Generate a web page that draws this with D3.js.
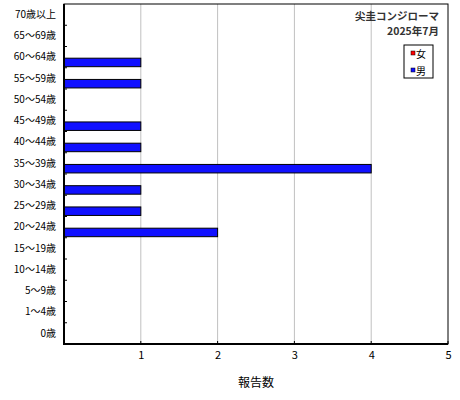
<!DOCTYPE html>
<html>
<head>
<meta charset="utf-8">
<script src="https://cdn.jsdelivr.net/npm/d3@7"></script>
<style>
  body { margin: 0; background: #fff; }
  svg text { font-family: "Noto Sans CJK JP", sans-serif; }
</style>
</head>
<body>
<svg id="canvas" width="460" height="400"></svg>
<script>
let ages = ['0歳', '1～4歳', '5～9歳', '10～14歳', '15～19歳', '20～24歳', '25～29歳', '30～34歳',
            '35～39歳', '40～44歳', '45～49歳', '50～54歳', '55～59歳', '60～64歳', '65～69歳', '70歳以上']
let sexes = ['女', '男']
let female = [0, 0, 0, 0, 0, 0, 0, 0, 0, 0, 0, 0, 0, 0, 0, 0]
let male = [0, 0, 0, 0, 0, 2, 1, 1, 4, 1, 1, 0, 1, 1, 0, 0]
let xTicks = [1, 2, 3, 4, 5]
let colors = ['#ff0000', '#1010ff']

let canvas = d3.select('#canvas')

let plotLeft = 64, plotRight = 448, plotTop = 4, plotBottom = 344

let xScale = d3.scaleLinear().domain([0, 5]).range([plotLeft, plotRight])
let yScale = d3.scaleBand().domain(ages.slice().reverse()).range([plotTop, plotBottom])
let sexScale = d3.scaleBand().domain(sexes).range([0, yScale.bandwidth()])
                 .paddingInner(0.2).paddingOuter(0.1)

// gridlines
canvas.selectAll('line.grid')
      .data([1, 2, 3, 4])
      .enter()
      .append('line')
      .attr('x1', d => xScale(d))
      .attr('x2', d => xScale(d))
      .attr('y1', plotTop)
      .attr('y2', plotBottom)
      .attr('stroke', '#c0c0c0')
      .attr('stroke-width', 1)

// bars
let rows = []
ages.forEach((age, i) => {
  rows.push({age: age, sex: '女', value: female[i], color: colors[0]})
  rows.push({age: age, sex: '男', value: male[i], color: colors[1]})
})

canvas.selectAll('rect.bar')
      .data(rows.filter(d => d.value > 0))
      .enter()
      .append('rect')
      .attr('class', 'bar')
      .attr('x', xScale(0))
      .attr('y', d => yScale(d.age) + sexScale(d.sex))
      .attr('width', d => xScale(d.value) - xScale(0))
      .attr('height', sexScale.bandwidth())
      .attr('fill', d => d.color)
      .attr('stroke', '#000')
      .attr('stroke-width', 1)

// frame
canvas.append('rect')
      .attr('x', plotLeft).attr('y', plotTop)
      .attr('width', plotRight - plotLeft).attr('height', plotBottom - plotTop)
      .attr('fill', 'none').attr('stroke', '#000').attr('stroke-width', 1)
canvas.append('line')
      .attr('x1', plotLeft).attr('x2', plotLeft).attr('y1', plotTop).attr('y2', plotBottom + 1)
      .attr('stroke', '#000').attr('stroke-width', 2)
canvas.append('line')
      .attr('x1', plotLeft - 1).attr('x2', plotRight).attr('y1', plotBottom).attr('y2', plotBottom)
      .attr('stroke', '#000').attr('stroke-width', 2)

// inward ticks
canvas.selectAll('line.ytick')
      .data(ages.slice(0, ages.length - 1))
      .enter()
      .append('line')
      .attr('x1', plotLeft).attr('x2', plotLeft + 3)
      .attr('y1', d => yScale(d)).attr('y2', d => yScale(d))
      .attr('stroke', '#000')
canvas.selectAll('line.xtick')
      .data(xTicks)
      .enter()
      .append('line')
      .attr('x1', d => xScale(d)).attr('x2', d => xScale(d))
      .attr('y1', plotBottom).attr('y2', plotBottom - 3)
      .attr('stroke', '#000')

// axis labels
let yAxis = d3.axisLeft(yScale).tickSize(0).tickPadding(8)
let gy = canvas.append('g').attr('transform', `translate(${plotLeft},0)`).call(yAxis)
gy.select('.domain').remove()
gy.selectAll('text').attr('font-size', 10).attr('fill', '#000')
  .style('font-family', '"Noto Sans CJK JP", sans-serif')

let xAxis = d3.axisBottom(xScale).tickValues(xTicks).tickFormat(d3.format('d')).tickSize(0).tickPadding(7)
let gx = canvas.append('g').attr('transform', `translate(0,${plotBottom})`).call(xAxis)
gx.select('.domain').remove()
gx.selectAll('text').attr('font-size', 11).attr('fill', '#000')
  .style('font-family', '"Noto Sans CJK JP", sans-serif')

canvas.append('text')
      .attr('x', (plotLeft + plotRight) / 2).attr('y', 387)
      .attr('text-anchor', 'middle').attr('font-size', 12)
      .text('報告数')

// title
canvas.append('text')
      .attr('x', 439).attr('y', 20)
      .attr('text-anchor', 'end').attr('font-size', 10.5).attr('font-weight', 'bold')
      .attr('fill', '#333')
      .text('尖圭コンジローマ')
canvas.append('text')
      .attr('x', 439).attr('y', 35)
      .attr('text-anchor', 'end').attr('font-size', 10.5).attr('font-weight', 'bold')
      .attr('fill', '#333')
      .text('2025年7月')

// legend
let legend = canvas.append('g')
legend.append('rect')
      .attr('x', 404).attr('y', 45).attr('width', 29).attr('height', 33)
      .attr('fill', '#fff').attr('stroke', '#000')
legend.selectAll('rect.key')
      .data(sexes)
      .enter()
      .append('rect')
      .attr('x', 411)
      .attr('y', (d, i) => 51 + i * 17)
      .attr('width', 4).attr('height', 4)
      .attr('fill', (d, i) => colors[i])
      .attr('stroke', '#000').attr('stroke-width', 0.5)
legend.selectAll('text.key')
      .data(sexes)
      .enter()
      .append('text')
      .attr('x', 416)
      .attr('y', (d, i) => 58 + i * 17)
      .attr('font-size', 10)
      .text(d => d)
</script>
</body>
</html>
